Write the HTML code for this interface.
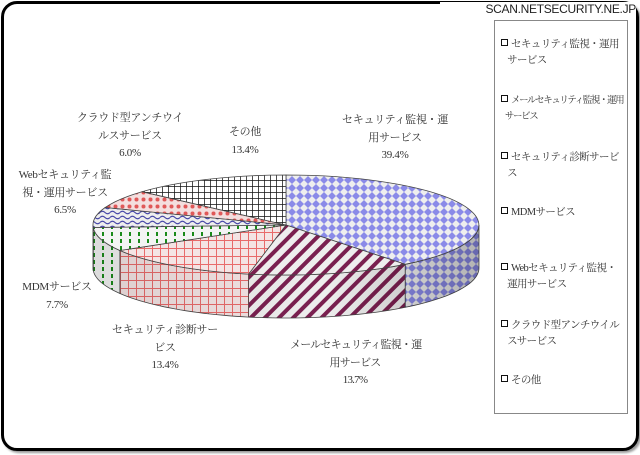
<!DOCTYPE html>
<html><head><meta charset="utf-8"><style>
body{margin:0;width:640px;height:455px;background:#fff;overflow:hidden;position:relative;font-family:"Liberation Serif","Noto Serif CJK JP",serif;}
.frame{position:absolute;left:1px;top:1px;width:632px;height:444px;border:3px solid #000;border-radius:16px;box-shadow:2px 2px 2px #999;}
.wm{position:absolute;left:440px;top:2px;width:196px;height:16px;background:#fff;font:12px "Liberation Sans",sans-serif;color:#222;text-align:right;letter-spacing:-0.3px;}
.leg{position:absolute;left:494px;top:20px;width:132px;height:392px;border:1px solid #888;background:#fff;}
.li{position:absolute;left:6px;font-size:10.5px;line-height:16px;color:#333;width:124px;white-space:nowrap;letter-spacing:-0.6px;}
.li b{display:inline-block;width:5px;height:5px;border:1.5px solid #111;margin-right:3px;vertical-align:1px;background:#fff;}
.lb{position:absolute;font-size:11px;line-height:17.5px;color:#333;text-align:center;white-space:nowrap;letter-spacing:-0.3px;}
</style></head><body>
<div class="frame"></div>
<svg width="640" height="455" style="position:absolute;left:0;top:0">
<defs>
<pattern id="pb" width="8" height="8" patternUnits="userSpaceOnUse"><rect width="8" height="8" fill="#eee"/><path d="M4 0L8 4L4 8L0 4Z" fill="#8a8ae8"/></pattern>
<pattern id="pm" width="10" height="10" patternUnits="userSpaceOnUse" patternTransform="rotate(45)"><rect width="10" height="10" fill="#eee"/><rect width="4" height="10" fill="#7a2050"/></pattern>
<pattern id="pr" width="8" height="8" patternUnits="userSpaceOnUse"><rect width="8" height="8" fill="#f4e4e4"/><path d="M0 0H8M0 0V8" stroke="#e86a6a" stroke-width="2"/></pattern>
<pattern id="pg" width="9" height="7" patternUnits="userSpaceOnUse"><rect width="9" height="7" fill="#f4f4f4"/><rect x="3" y="1" width="2" height="4" fill="#1a8a1a"/></pattern>
<pattern id="pw" width="10" height="5" patternUnits="userSpaceOnUse"><rect width="10" height="5" fill="#eee"/><path d="M0 2.5Q2.5 0 5 2.5T10 2.5" stroke="#4848a8" fill="none" stroke-width="1.2"/></pattern>
<pattern id="pc" width="7" height="7" patternUnits="userSpaceOnUse"><rect width="7" height="7" fill="#f4dede"/><circle cx="3.5" cy="3.5" r="2" fill="#e05858"/></pattern>
<pattern id="pk" width="6" height="6" patternUnits="userSpaceOnUse"><rect width="6" height="6" fill="#fff"/><path d="M0 0H6M0 0V6" stroke="#111" stroke-width="1.5"/></pattern>
<linearGradient id="sh" x1="0" x2="1"><stop offset="0" stop-color="#000" stop-opacity="0.1"/><stop offset="0.6" stop-color="#000" stop-opacity="0"/><stop offset="1" stop-color="#000" stop-opacity="0.25"/></linearGradient>
</defs>
<g id="pie" stroke="#444" stroke-width="0.8"></g>
</svg>
<script>
var cx=286,cy=225,rx=193,ry=50,d=43;
var cum=[0,39.4,53.1,66.5,74.2,80.7,86.6,100],f=['pb','pm','pr','pg','pw','pc','pk'];
function P(a,dy){a=a*Math.PI/180;return [cx+rx*Math.sin(a),cy-ry*Math.cos(a)+(dy||0)];}
var g=document.getElementById('pie'),h='';
for(var i=0;i<7;i++){var a0=cum[i]*3.6,a1=cum[i+1]*3.6;var s=Math.max(a0,90),e=Math.min(a1,270);
 if(e>s){var p=[];for(var t=s;t<=e+0.001;t+=Math.min(2,e-t||2)){p.push(P(t));if(t>=e)break;}
 var q=p.map(function(v){return v[0].toFixed(1)+','+v[1].toFixed(1)});var r=p.slice().reverse().map(function(v){return v[0].toFixed(1)+','+(v[1]+d).toFixed(1)});
 h+='<polygon points="'+q.join(' ')+' '+r.join(' ')+'" fill="url(#'+f[i]+')"/>';}}
var sp=[],sr=[];for(var t=90;t<=270;t+=2){var v=P(t);sp.push(v[0]+','+v[1]);sr.unshift(v[0]+','+(v[1]+d));}
h+='<polygon points="'+sp.join(' ')+' '+sr.join(' ')+'" fill="url(#sh)" stroke="none"/>';
for(var i=0;i<7;i++){var a0=cum[i]*3.6,a1=cum[i+1]*3.6,p0=P(a0),p1=P(a1);var large=(a1-a0)>180?1:0;
 h+='<path d="M'+cx+' '+cy+'L'+p0[0].toFixed(1)+' '+p0[1].toFixed(1)+'A'+rx+' '+ry+' 0 '+large+' 1 '+p1[0].toFixed(1)+' '+p1[1].toFixed(1)+'Z" fill="url(#'+f[i]+')"/>';}
g.innerHTML=h;
</script>
<div class="wm">SCAN.NETSECURITY.NE.JP</div>
<div class="lb" style="left:340px;top:112px;width:110px">セキュリティ監視・運<br>用サービス<br>39.4%</div>
<div class="lb" style="left:215px;top:124px;width:60px">その他<br>13.4%</div>
<div class="lb" style="left:70px;top:110px;width:120px">クラウド型アンチウイ<br>ルスサービス<br>6.0%</div>
<div class="lb" style="left:5px;top:167px;width:120px">Webセキュリティ監<br>視・運用サービス<br>6.5%</div>
<div class="lb" style="left:12px;top:279px;width:90px">MDMサービス<br>7.7%</div>
<div class="lb" style="left:105px;top:322px;width:120px">セキュリティ診断サー<br>ビス<br>13.4%</div>
<div class="lb" style="left:290px;top:337px;width:130px;letter-spacing:-0.8px">メールセキュリティ監視・運<br>用サービス<br>13.7%</div>
<div class="leg">
<div class="li" style="top:16px"><b></b>セキュリティ監視・運用<br>&nbsp;&nbsp;&nbsp;サービス</div>
<div class="li" style="top:72px;font-size:9.5px;letter-spacing:-1.4px"><b></b>メールセキュリティ監視・運用<br>&nbsp;&nbsp;&nbsp;&nbsp;サービス</div>
<div class="li" style="top:129px"><b></b>セキュリティ診断サービ<br>&nbsp;&nbsp;&nbsp;ス</div>
<div class="li" style="top:184px"><b></b>MDMサービス</div>
<div class="li" style="top:240px"><b></b>Webセキュリティ監視・<br>&nbsp;&nbsp;&nbsp;運用サービス</div>
<div class="li" style="top:297px"><b></b>クラウド型アンチウイル<br>&nbsp;&nbsp;&nbsp;スサービス</div>
<div class="li" style="top:352px"><b></b>その他</div>
</div>
</body></html>
